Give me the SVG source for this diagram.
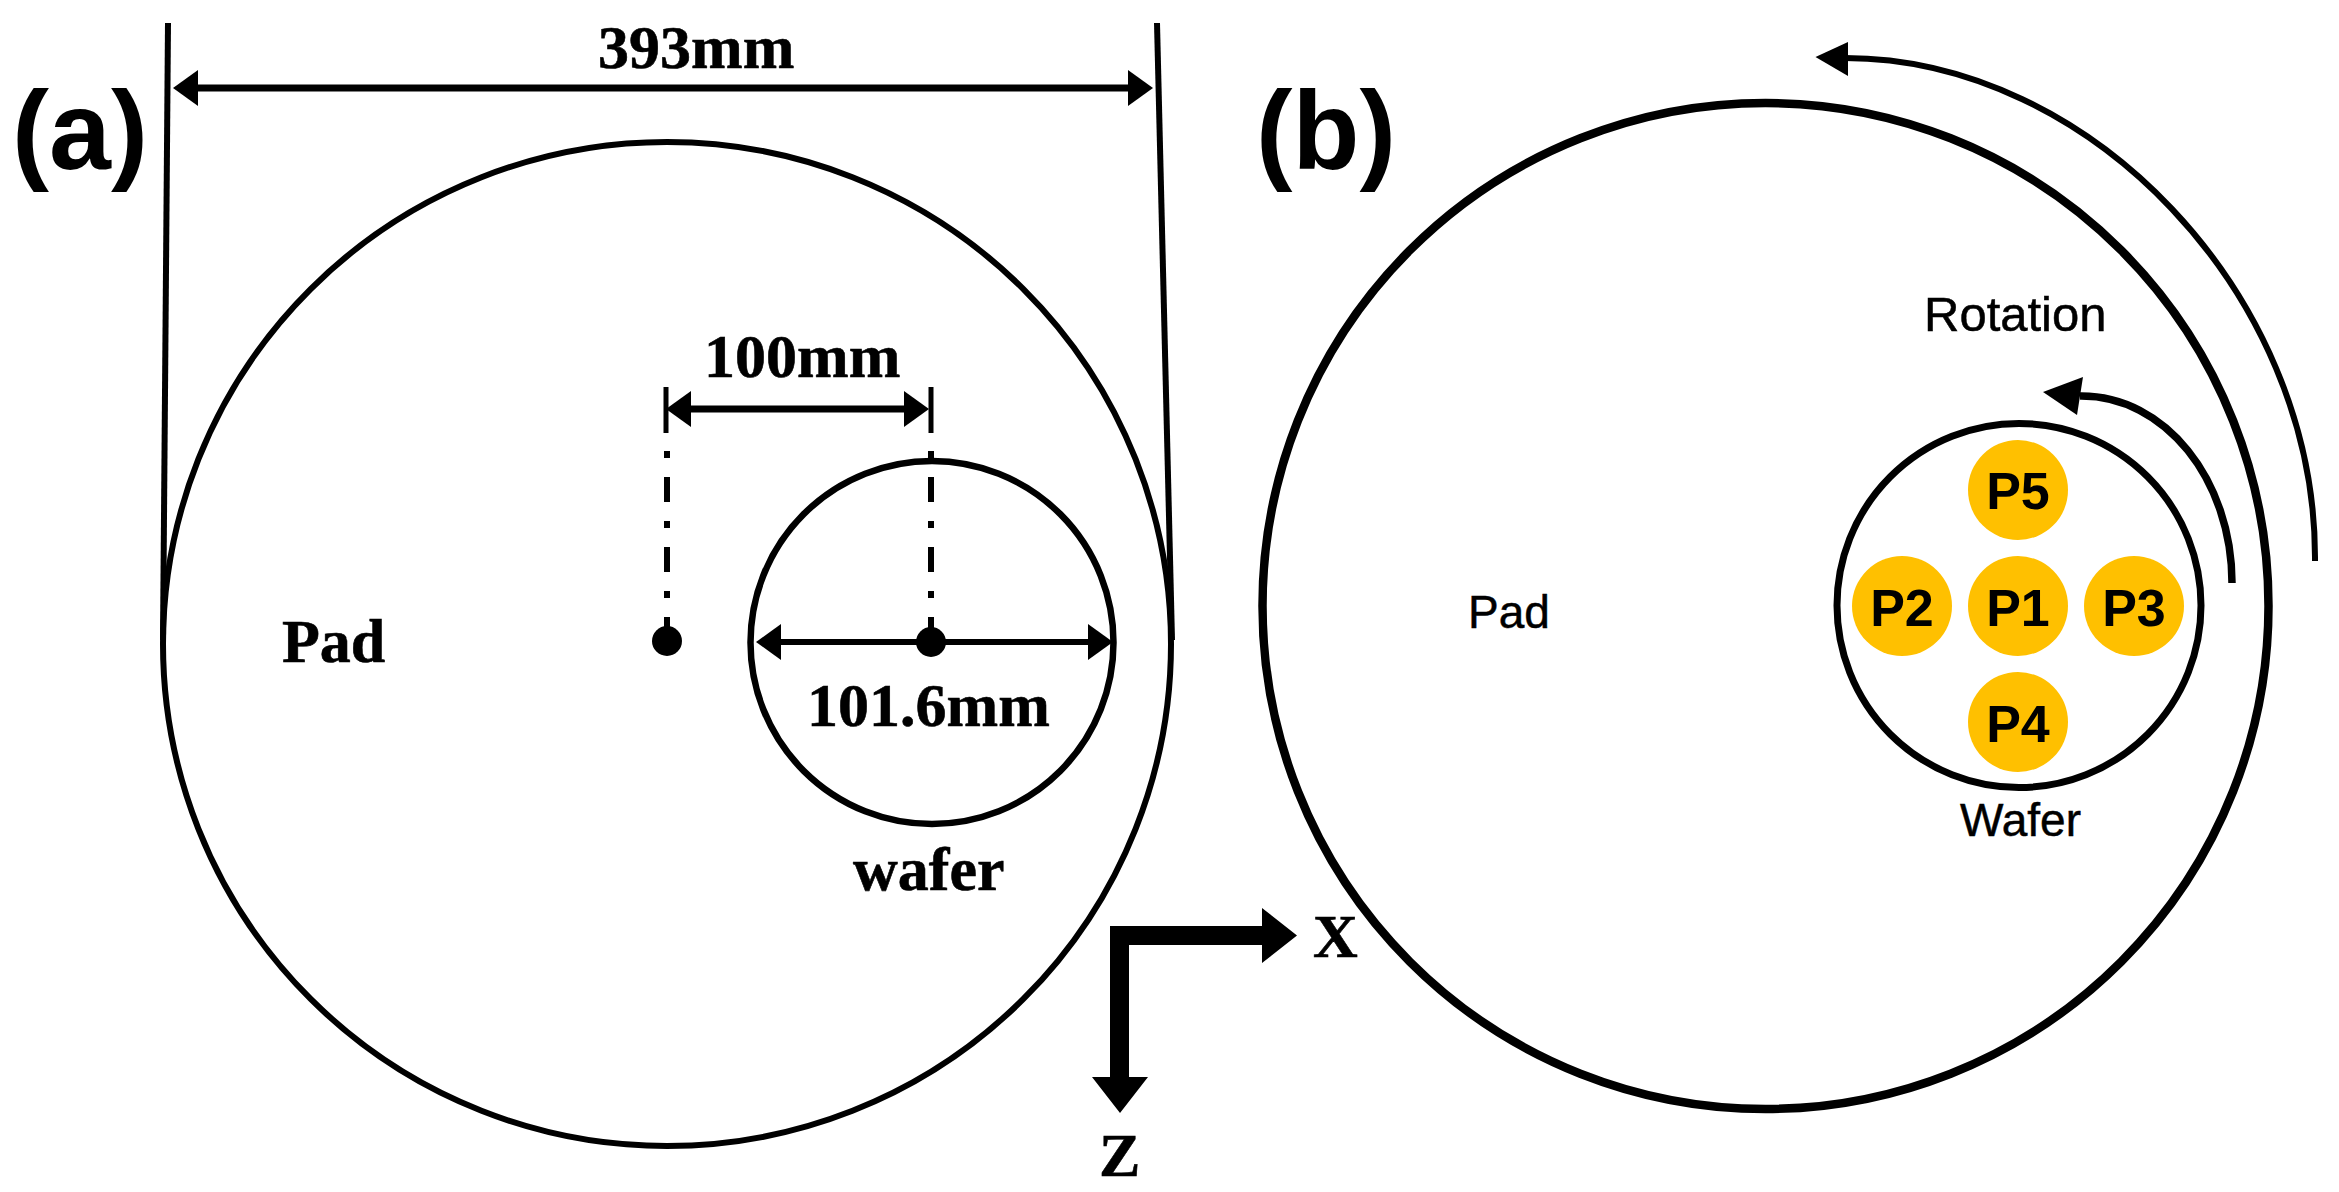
<svg xmlns="http://www.w3.org/2000/svg" width="2339" height="1192" viewBox="0 0 2339 1192">
<defs>
<style>
.serif{font-family:"Liberation Serif","Times New Roman",serif;font-weight:700;fill:#000;stroke:#000;stroke-width:.6px;font-size:62px}
.sans{font-family:"Liberation Sans",Arial,sans-serif;fill:#000}
.lab{font-weight:700;font-size:112px}
.pt{font-weight:700;font-size:52px;text-anchor:middle}
.reg{font-size:46px;stroke:#000;stroke-width:.5px}
.c{fill:#fff;stroke:#000}
.p{fill:#FFC000}
.ln{fill:none;stroke:#000}
.dim{fill:none;stroke:#000;stroke-width:7;marker-start:url(#ah);marker-end:url(#ah)}
.dd{fill:none;stroke:#000;stroke-width:6;stroke-dasharray:7 19 25 19}
</style>
<marker id="ah" markerUnits="userSpaceOnUse" orient="auto-start-reverse" markerWidth="26" markerHeight="38" refX="0" refY="19" viewBox="0 0 26 38" overflow="visible"><path d="M0 1L25 19L0 37Z" fill="#000"/></marker>
</defs>
<rect width="2339" height="1192" fill="#fff"/>
<g id="pad-a"><ellipse class="c" cx="667" cy="644" rx="504" ry="502" stroke-width="6"/></g>
<g id="wafer-a"><circle class="c" cx="932" cy="642.5" r="181.5" stroke-width="6.5"/></g>
<g id="pad-b"><circle class="c" cx="1765.5" cy="606" r="503" stroke-width="8.5"/></g>
<g id="wafer-b"><circle class="c" cx="2019" cy="605.5" r="182" stroke-width="7"/></g>
<g id="connectors">
<path class="ln" stroke-width="6" d="M168 23L163 640"/>
<path class="ln" stroke-width="6" d="M1157 23L1172 640"/>
<path class="dim" d="M198 88H1128"/>
<path class="ln" stroke-width="5" d="M666 387V433M931 387V433"/>
<path class="dim" d="M691 409H904"/>
<path class="dd" d="M667 451V641"/>
<path class="dd" d="M931 451V641"/>
<path class="dim" d="M781 642H1088" style="stroke-width:6"/>
<path class="ln" stroke-width="6" d="M2315 561V557C2315 294 2090 58 1845 58"/>
<polygon points="1815.5,57 1848,42 1848,76"/>
<path class="ln" stroke-width="7.5" d="M2232 583C2232 480 2165 395 2080 396"/>
<polygon points="2043,392 2083,377 2077,415"/>
<path d="M1110 926H1262V908L1297 935.5L1262 963V945H1129V1077H1148L1120 1113L1092 1077H1110Z"/>
</g>
<g id="dot-pad"><circle cx="667" cy="641" r="15"/></g>
<g id="dot-wafer"><circle cx="931" cy="642" r="15"/></g>
<g id="p5"><circle class="p" cx="2018" cy="490" r="50"/><text class="sans pt" x="2018" y="509">P5</text></g>
<g id="p2"><circle class="p" cx="1902" cy="606" r="50"/><text class="sans pt" x="1902" y="626">P2</text></g>
<g id="p1"><circle class="p" cx="2018" cy="606" r="50"/><text class="sans pt" x="2018" y="626">P1</text></g>
<g id="p3"><circle class="p" cx="2134" cy="606" r="50"/><text class="sans pt" x="2134" y="626">P3</text></g>
<g id="p4"><circle class="p" cx="2018" cy="722" r="50"/><text class="sans pt" x="2018" y="742">P4</text></g>
<g id="labels">
<text class="sans lab" x="12" y="169" textLength="136" lengthAdjust="spacingAndGlyphs">(a)</text>
<text class="sans lab" x="1256" y="169" textLength="140" lengthAdjust="spacingAndGlyphs">(b)</text>
<text class="serif" x="598" y="68">393mm</text>
<text class="serif" x="704" y="377">100mm</text>
<text class="serif" x="807" y="726">101.6mm</text>
<text class="serif" x="282" y="662">Pad</text>
<text class="serif" x="853" y="890">wafer</text>
<text class="serif" x="1313" y="957">X</text>
<text class="serif" x="1099" y="1176">Z</text>
<text class="sans reg" x="1924" y="331" style="font-size:49px">Rotation</text>
<text class="sans reg" x="1468" y="628">Pad</text>
<text class="sans reg" x="1960" y="836">Wafer</text>
</g>
</svg>
